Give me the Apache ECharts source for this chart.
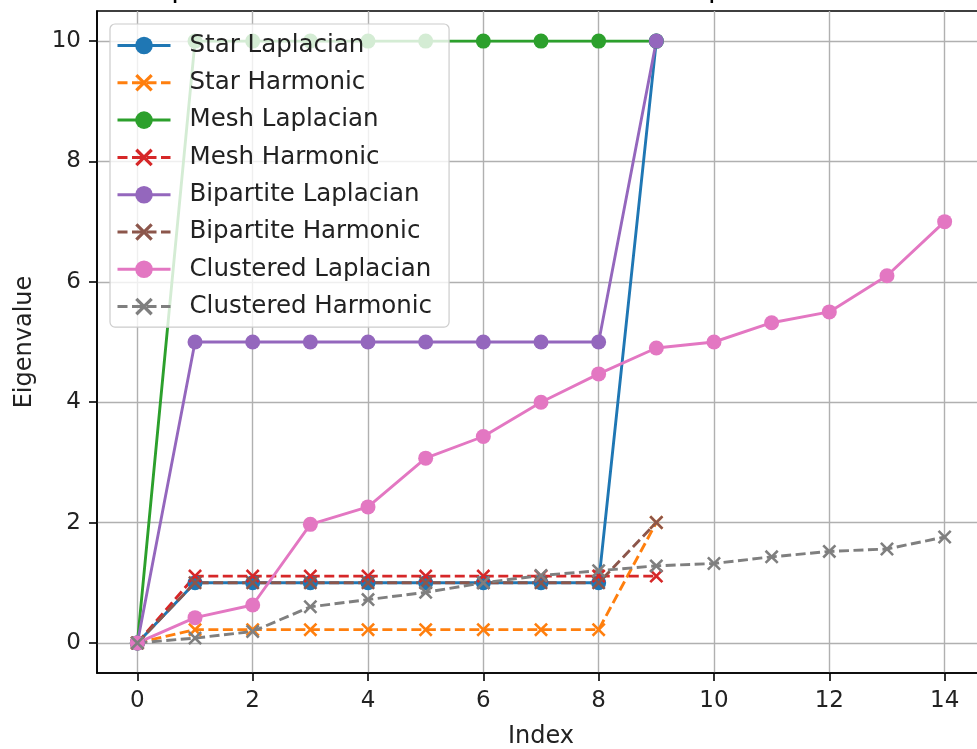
<!DOCTYPE html>
<html><head><meta charset="utf-8">
<script src="https://cdn.jsdelivr.net/npm/echarts@6/dist/echarts.min.js"></script>
<style>html,body{margin:0;padding:0;background:#fff}#c{width:977px;height:749px}</style>
</head><body><div id="c"></div>
<script>
const titleText = 'Spectrum of Harmonic and Standard Laplacians';
const seriesNames = ['Star Laplacian','Star Harmonic','Mesh Laplacian','Mesh Harmonic','Bipartite Laplacian','Bipartite Harmonic','Clustered Laplacian','Clustered Harmonic'];
const starLaplacian = [0,1,1,1,1,1,1,1,1,10];
const starHarmonic = [0,0.22,0.22,0.22,0.22,0.22,0.22,0.22,0.22,2.0];
const meshLaplacian = [0,10,10,10,10,10,10,10,10,10];
const meshHarmonic = [0,1.11,1.11,1.11,1.11,1.11,1.11,1.11,1.11,1.11];
const bipartiteLaplacian = [0,5,5,5,5,5,5,5,5,10];
const bipartiteHarmonic = [0,1,1,1,1,1,1,1,1,2.0];
const clusteredLaplacian = [0,0.42,0.63,1.97,2.26,3.07,3.43,4.0,4.47,4.9,5.0,5.32,5.5,6.1,7.0];
const clusteredHarmonic = [0,0.08,0.19,0.6,0.72,0.84,1.0,1.12,1.2,1.28,1.32,1.43,1.52,1.56,1.76];
const xTicks = [0,2,4,6,8,10,12,14];
const yTicks = [0,2,4,6,8,10];
const colors = ['#1f77b4','#ff7f0e','#2ca02c','#d62728','#9467bd','#8c564b','#e377c2','#7f7f7f'];
const allData = [starLaplacian,starHarmonic,meshLaplacian,meshHarmonic,bipartiteLaplacian,bipartiteHarmonic,clusteredLaplacian,clusteredHarmonic];

const xSym = 'path://M0,1.3 L1.3,0 L5,3.7 L8.7,0 L10,1.3 L6.3,5 L10,8.7 L8.7,10 L5,6.3 L1.3,10 L0,8.7 L3.7,5 Z';
const FONT = 'DejaVu Sans';

const series = allData.map((arr, k) => {
  const harmonic = k % 2 === 1;
  return {
    name: seriesNames[k],
    type: 'line',
    data: arr.map((v, i) => [i, v]),
    symbol: harmonic ? xSym : 'circle',
    symbolSize: harmonic ? 14 : 15,
    showSymbol: true,
    animation: false,
    color: colors[k],
    itemStyle: {color: colors[k]},
    lineStyle: {color: colors[k], width: 2.9, type: harmonic ? [10, 4.5] : 'solid'},
    emphasis: {disabled: true}
  };
});

const chart = echarts.init(document.getElementById('c'), null, {renderer: 'canvas'});
chart.setOption({
  animation: false,
  backgroundColor: '#fff',
  title: {text: titleText, left: 'center', top: -29, textStyle: {fontFamily: FONT, fontSize: 28, fontWeight: 'normal', color: '#000'}},
  grid: {left: 97, top: 11, width: 888, height: 662, containLabel: false, outerBoundsMode: 'none', show: true, borderColor: '#000', borderWidth: 1.6, backgroundColor: 'transparent'},
  legend: {
    orient: 'vertical', left: 110, top: 24,
    itemWidth: 53, itemHeight: 22, itemGap: 12.3,
    padding: [9, 17, 8, 6],
    backgroundColor: 'rgba(255,255,255,0.8)', borderColor: '#cccccc', borderWidth: 1.2, borderRadius: 5,
    lineStyle: {width: 3},
    textStyle: {fontFamily: FONT, fontSize: 24.5, lineHeight: 24, color: '#222', padding: [0, 0, 0, 14]},
    data: seriesNames
  },
  xAxis: {
    type: 'value', min: -0.7, max: 14.7,
    name: 'Index', nameLocation: 'middle', nameGap: 52,
    nameTextStyle: {fontFamily: FONT, fontSize: 24, color: '#222'},
    axisLine: {show: true, onZero: false, lineStyle: {color: '#000', width: 1.6}},
    axisTick: {show: true, length: 8, lineStyle: {color: '#000', width: 1.6}, customValues: xTicks},
    axisLabel: {fontFamily: FONT, fontSize: 23, color: '#222', margin: 17, customValues: xTicks},
    splitLine: {show: true, lineStyle: {color: '#b0b0b0', width: 1.4}}
  },
  yAxis: {
    type: 'value', min: -0.5, max: 10.5,
    name: 'Eigenvalue', nameLocation: 'middle', nameGap: 60, nameRotate: 90,
    nameTextStyle: {fontFamily: FONT, fontSize: 24, color: '#222'},
    axisLine: {show: true, onZero: false, lineStyle: {color: '#000', width: 1.6}},
    axisTick: {show: true, length: 8, lineStyle: {color: '#000', width: 1.6}, customValues: yTicks},
    axisLabel: {fontFamily: FONT, fontSize: 23, color: '#222', margin: 16, customValues: yTicks},
    splitLine: {show: true, lineStyle: {color: '#b0b0b0', width: 1.4}}
  },
  series: series
});
</script></body></html>
